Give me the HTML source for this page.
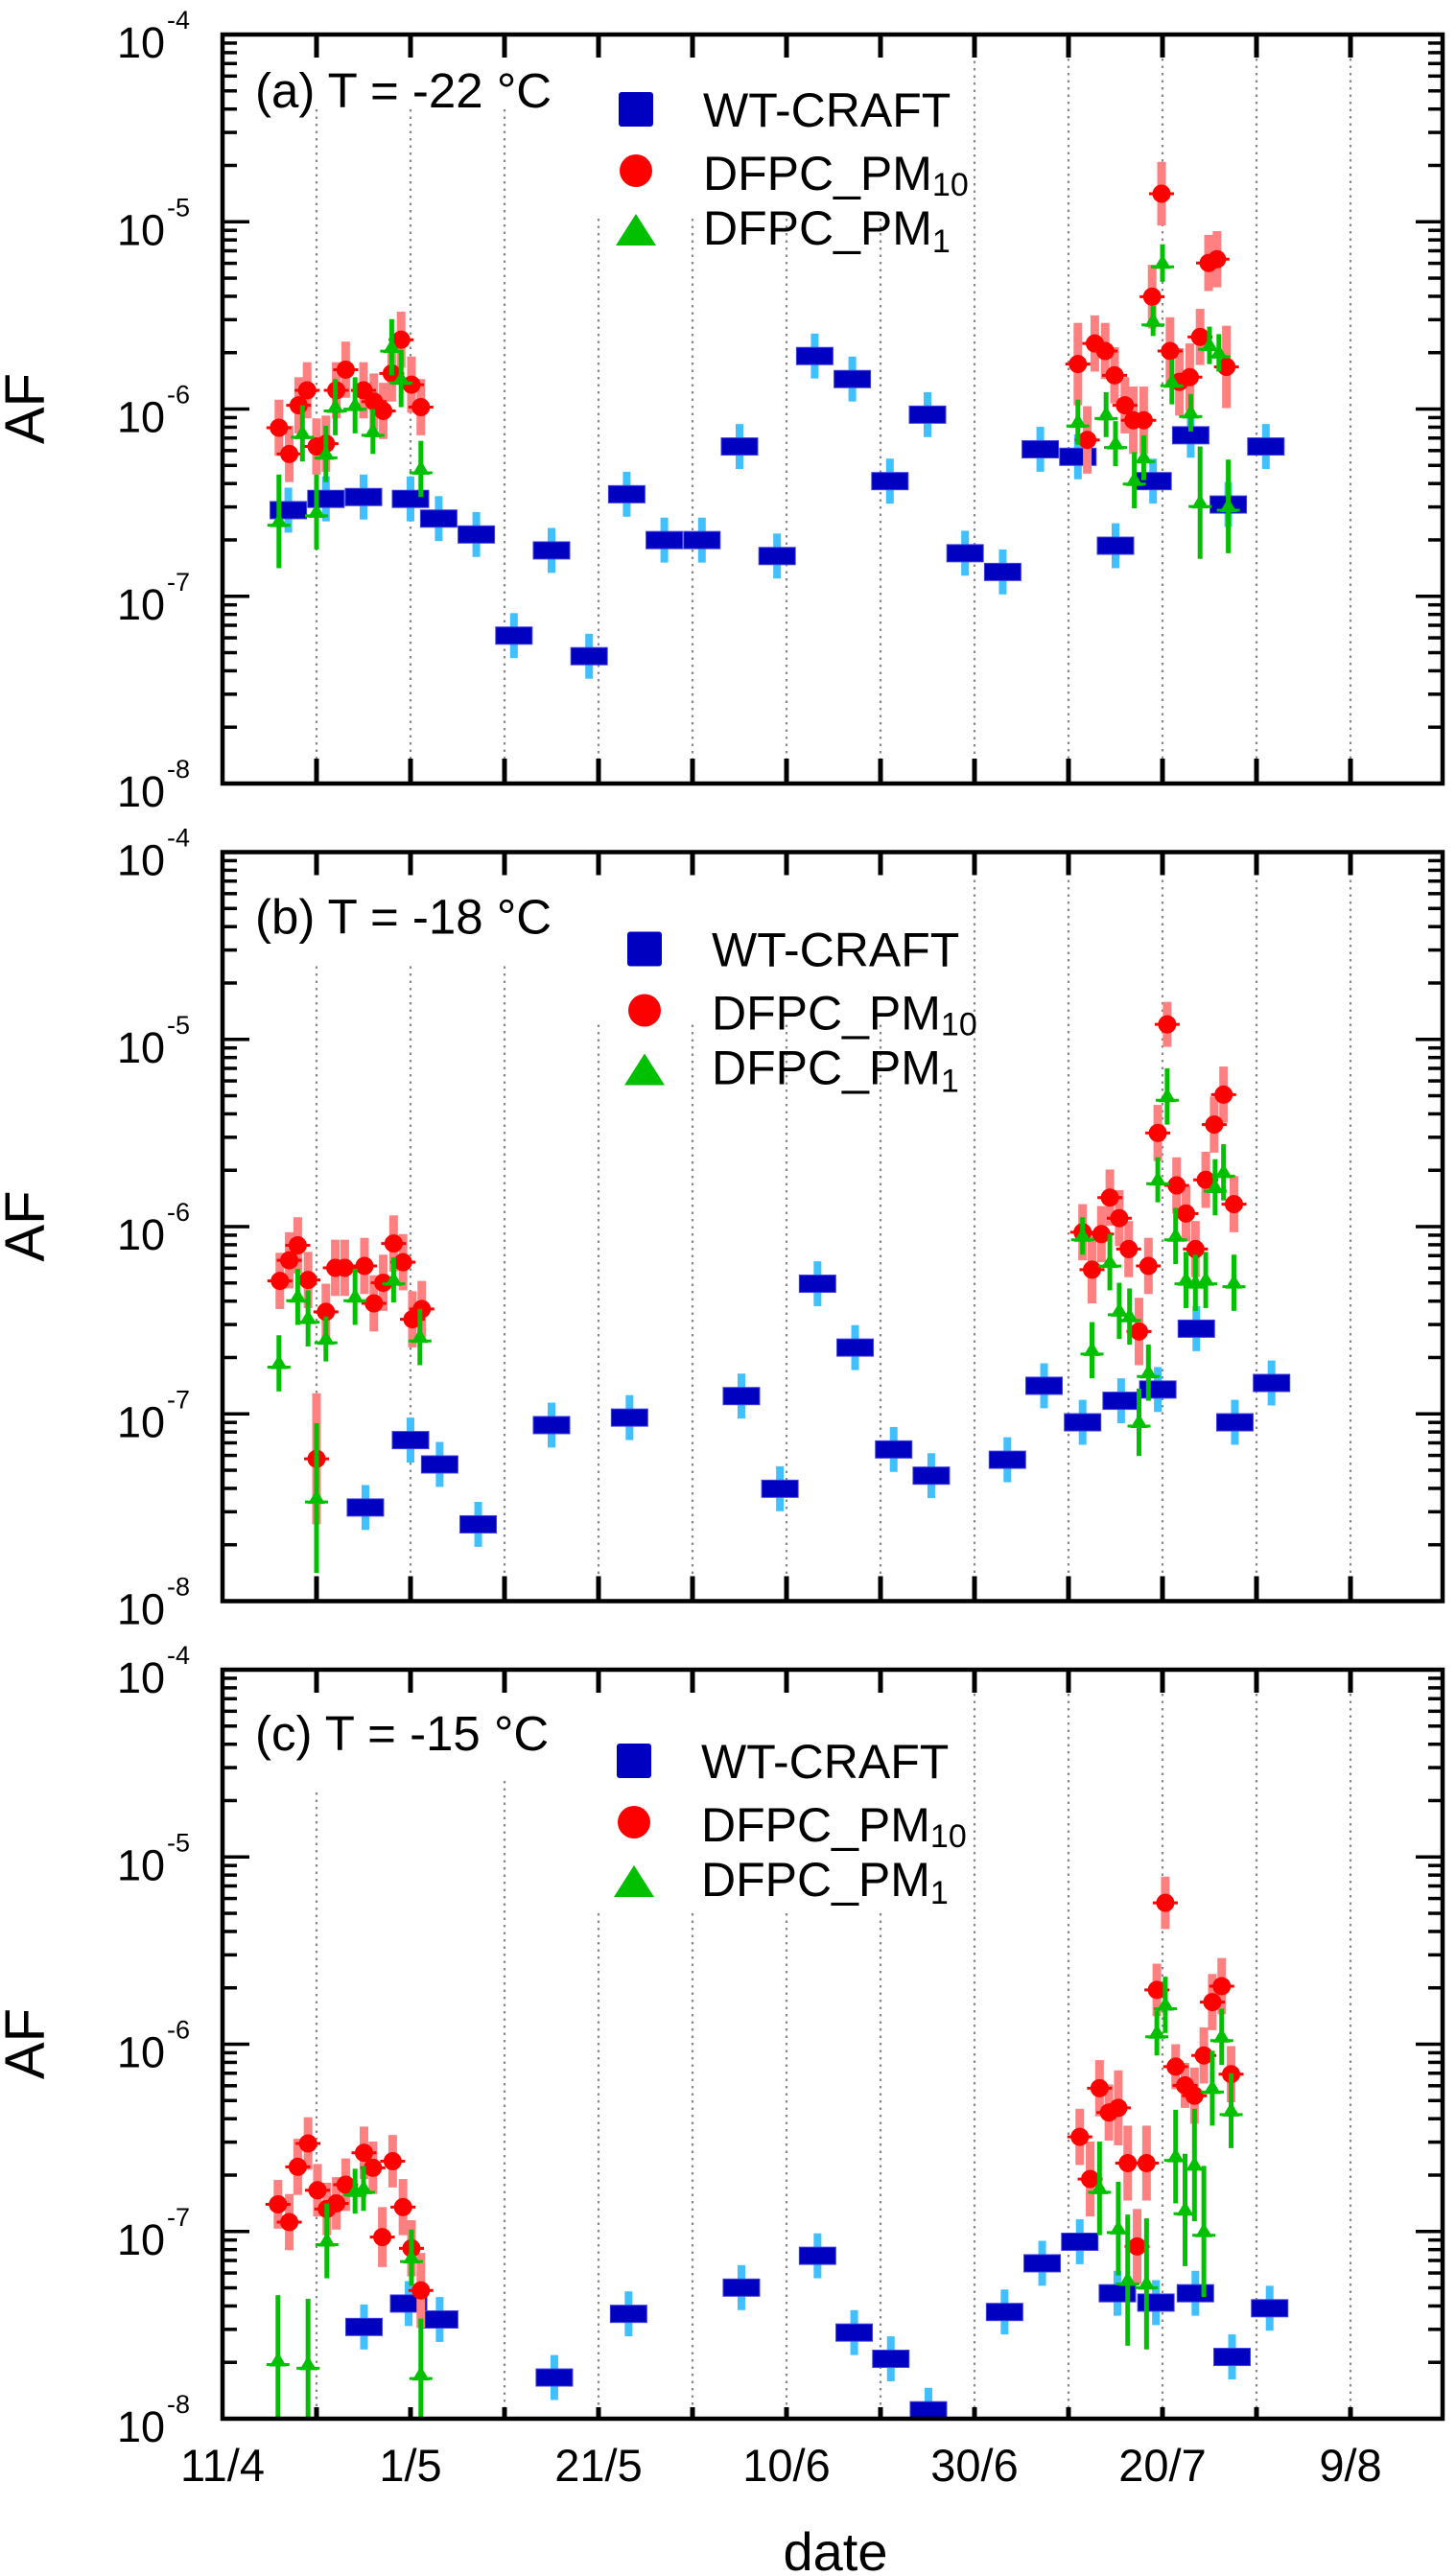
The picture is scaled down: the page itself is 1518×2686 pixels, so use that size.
<!DOCTYPE html>
<html><head><meta charset="utf-8"><title>AF vs date</title>
<style>html,body{margin:0;padding:0;background:#fff}svg{display:block}text{font-family:"Liberation Sans",Arial,sans-serif}</style>
</head><body>
<svg id="chart" xmlns="http://www.w3.org/2000/svg" width="1518" height="2686" viewBox="0 0 1518 2686"></svg>
<script>
// ---------- data (log10 AF values, day since 11/4) ----------
const xTickLabels = ["11/4","1/5","21/5","10/6","30/6","20/7","9/8"];
const panelLabels = ["(a) T = -22 \u00B0C","(b) T = -18 \u00B0C","(c) T = -15 \u00B0C"];
const yTickExps = ["-4","-5","-6","-7","-8"];

const aWtDay = [7,11,15,20,23,27,31,35,39,43,47,51,55,59,63,67,71,75,79,83,87,91,95,99,103,107,111];
const aWtLog = [-6.54,-6.48,-6.47,-6.48,-6.585,-6.67,-7.21,-6.755,-7.32,-6.455,-6.70,-6.70,-6.20,-6.785,-5.717,-5.84,-6.385,-6.03,-6.77,-6.87,-6.215,-6.255,-6.73,-6.385,-6.14,-6.51,-6.20];
const aPm10Day = [6,7.1,8.1,9,10,11,12.1,13.1,15,16.1,17.1,18,19,20.1,21.1,91,92,92.8,93.9,94.9,96,96.9,98,98.9,99.9,100.8,101.8,102.9,104,104.9,105.8,106.8];
const aPm10Log = [-6.10,-6.24,-5.98,-5.90,-6.20,-6.185,-5.90,-5.79,-5.90,-5.96,-6.01,-5.81,-5.63,-5.87,-5.99,-5.76,-6.165,-5.65,-5.69,-5.82,-5.98,-6.06,-6.06,-5.40,-4.85,-5.69,-5.855,-5.83,-5.615,-5.22,-5.20,-5.775];
const aPm10Err = [0.15,0.15,0.15,0.15,0.15,0.15,0.15,0.15,0.15,0.15,0.15,0.15,0.15,0.15,0.15,0.22,0.18,0.15,0.15,0.15,0.15,0.18,0.18,0.17,0.17,0.18,0.18,0.18,0.15,0.15,0.15,0.22];
const aPm1Day = [6,8.5,10,11,12,14.1,16,18,19,21.1,91,94,95,97,98,99,100,101,103,104,105,106,107];
const aPm1Log = [-6.60,-6.13,-6.55,-6.24,-5.99,-5.98,-6.12,-5.67,-5.84,-6.32,-6.07,-6.03,-6.185,-6.38,-6.26,-5.53,-5.22,-5.855,-6.02,-6.50,-5.66,-5.70,-6.52];
const aPm1Err = [0.25,0.15,0.2,0.15,0.15,0.15,0.12,0.15,0.15,0.15,0.12,0.12,0.12,0.15,0.12,0.08,0.1,0.12,0.1,0.3,0.1,0.1,0.25];

const bWtDay = [15.2,20,23.1,27.2,35,43.3,55.2,59.3,63.3,67.3,71.4,75.4,83.5,87.4,91.5,95.6,99.5,103.6,107.7,111.6];
const bWtLog = [-7.50,-7.14,-7.27,-7.59,-7.06,-7.02,-6.905,-7.40,-6.305,-6.646,-7.19,-7.33,-7.245,-6.85,-7.045,-6.93,-6.87,-6.545,-7.045,-6.835];
const bPm10Day = [6.1,7.1,8,9.1,10,11,12,13,15.1,16.1,17.1,18.2,19.2,20.2,21.2,91.5,92.5,93.5,94.4,95.4,96.4,97.5,98.5,99.5,100.5,101.5,102.5,103.5,104.6,105.5,106.5,107.6];
const bPm10Log = [-6.29,-6.18,-6.10,-6.285,-7.24,-6.455,-6.22,-6.22,-6.21,-6.41,-6.30,-6.09,-6.19,-6.495,-6.44,-6.03,-6.23,-6.04,-5.845,-5.955,-6.12,-6.56,-6.21,-5.50,-4.92,-5.78,-5.93,-6.12,-5.75,-5.455,-5.295,-5.88];
const bPm10Err = [0.15,0.15,0.15,0.15,0.35,0.15,0.15,0.15,0.15,0.15,0.15,0.15,0.15,0.15,0.15,0.15,0.18,0.15,0.15,0.15,0.15,0.18,0.15,0.15,0.12,0.15,0.15,0.15,0.15,0.15,0.15,0.15];
const bPm1Day = [6,8,9.1,11,14.1,10,18.2,21,91.5,92.5,94.4,95.4,96.5,97.5,98.5,99.5,100.5,101.4,102.5,103.5,104.6,105.6,106.5,107.6];
const bPm1Log = [-6.73,-6.375,-6.49,-6.60,-6.375,-7.45,-6.285,-6.59,-6.05,-6.66,-6.19,-6.45,-6.48,-7.045,-6.78,-5.75,-5.305,-6.05,-6.285,-6.30,-6.285,-5.79,-5.71,-6.30];
const bPm1Err = [0.15,0.15,0.15,0.12,0.15,0.4,0.12,0.15,0.1,0.15,0.15,0.15,0.15,0.18,0.15,0.12,0.15,0.15,0.15,0.15,0.15,0.15,0.15,0.15];

const cWtDay = [15.05,19.8,23.1,35.3,43.2,55.2,63.3,67.2,71.1,75.1,83.2,87.2,91.2,95.2,99.3,103.5,107.4,111.4];
const cWtLog = [-7.51,-7.385,-7.47,-7.78,-7.44,-7.30,-7.13,-7.54,-7.68,-7.955,-7.43,-7.17,-7.055,-7.33,-7.38,-7.33,-7.67,-7.41];
const cPm10Day = [5.9,7.1,8,9.1,10.1,11.1,12.1,13.1,15.05,16,17,18.1,19.2,20.1,21.1,91.2,92.3,93.3,94.3,95.3,96.3,97.3,98.3,99.4,100.3,101.4,102.4,103.4,104.4,105.3,106.3,107.3];
const cPm10Log = [-6.855,-6.95,-6.655,-6.53,-6.78,-6.88,-6.85,-6.75,-6.58,-6.66,-7.03,-6.625,-6.87,-7.09,-7.315,-6.495,-6.72,-6.235,-6.365,-6.34,-6.635,-7.08,-6.635,-5.71,-5.245,-6.12,-6.22,-6.275,-6.06,-5.775,-5.69,-6.16];
const cPm10Err = [0.13,0.15,0.15,0.14,0.14,0.14,0.14,0.14,0.14,0.14,0.16,0.14,0.15,0.15,0.2,0.15,0.2,0.15,0.15,0.2,0.2,0.2,0.2,0.14,0.14,0.12,0.12,0.15,0.15,0.15,0.15,0.15];
const cPm1Day = [5.9,9.1,11.1,14.1,15,20.1,21.1,93.3,95.3,96.3,98.3,99.4,100.3,101.4,102.4,103.4,104.4,105.3,106.3,107.3];
const cPm1Log = [-7.69,-7.71,-7.05,-6.785,-6.77,-7.14,-7.765,-6.77,-6.985,-7.26,-7.28,-5.94,-5.79,-6.60,-6.885,-6.645,-7.0,-6.235,-5.96,-6.355];
const cPm1Err = [0.35,0.35,0.2,0.12,0.12,0.15,0.3,0.25,0.25,0.35,0.35,0.12,0.15,0.25,0.3,0.3,0.35,0.2,0.15,0.2];

// ---------- layout ----------
const X0 = 232, X1 = 1504, PH = 781;
const tops = [36, 888.5, 1741];
const legendBase = [96, 119, 113];
const legendX = [733, 742, 731];
const gridStartA = [78,78,78,192,192,192,192,20,10,10,10,10];
const gridStartB = [119,119,119,180,180,180,180,14,14,14,14,14];
const gridStartC = [128,9999,116,254,254,254,254,10,10,10,10,10];
const gridStarts = [gridStartA, gridStartB, gridStartC];
const panels = [
 {wd:aWtDay,wl:aWtLog,rd:aPm10Day,rl:aPm10Log,re:aPm10Err,gd:aPm1Day,gl:aPm1Log,ge:aPm1Err},
 {wd:bWtDay,wl:bWtLog,rd:bPm10Day,rl:bPm10Log,re:bPm10Err,gd:bPm1Day,gl:bPm1Log,ge:bPm1Err},
 {wd:cWtDay,wl:cWtLog,rd:cPm10Day,rl:cPm10Log,re:cPm10Err,gd:cPm1Day,gl:cPm1Log,ge:cPm1Err}
];
const NS = "http://www.w3.org/2000/svg";
const svg = document.getElementById('chart');
function mk(tag, attrs, parent){const e=document.createElementNS(NS,tag);for(const k in attrs)e.setAttribute(k,attrs[k]);(parent||svg).appendChild(e);return e;}
const xS = d => X0 + d*9.8;
function yS(top, lg){ return top + (-4 - lg) * (PH/4); }

const defs = mk('defs',{});
tops.forEach((t,i)=>{const cp=mk('clipPath',{id:'clip'+i},defs);mk('rect',{x:X0,y:t,width:X1-X0,height:PH},cp);});

panels.forEach((p,pi)=>{
  const top = tops[pi], bot = top+PH;
  const g = mk('g',{});
  
  
  for(let k=1;k<=12;k++){
    const s = gridStarts[pi][k-1]; if(s>PH) continue;
    const l = mk('line',{x1:xS(k*10),x2:xS(k*10),y1:top+s,y2:bot,stroke:'#888','stroke-width':2.2,'stroke-dasharray':'2.5 5'},g);
    
    
  }
  for(let dec=0;dec<4;dec++){
    for(let m=1;m<10;m++){
      const lg = -8+dec+Math.log10(m);
      const y = yS(top, lg);
      const len = m===1?28:15;
      mk('line',{x1:X0,x2:X0+len,y1:y,y2:y,stroke:'#000','stroke-width':3.5},g);
      mk('line',{x1:X1,x2:X1-len,y1:y,y2:y,stroke:'#000','stroke-width':3.5},g);
    }
  }
  yTickExps.forEach((ex,i)=>{
    const y = top + i*(PH/4);
    const t = mk('text',{x:172,y:y+24,'font-size':45,'text-anchor':'end',fill:'#000'},g);
    t.textContent='10';
    
    
    const s = mk('text',{x:174,y:y-6,'font-size':27,fill:'#000'},g);
    s.textContent=ex;
    
    
  });
  for(let k=1;k<=12;k++){
    const x = xS(k*10);
    mk('line',{x1:x,x2:x,y1:bot,y2:bot-(pi===2?12:26),stroke:'#000','stroke-width':5},g);
    mk('line',{x1:x,x2:x,y1:top,y2:top+24,stroke:'#000','stroke-width':5},g);
  }
  const dg = mk('g',{'clip-path':'url(#clip'+pi+')'},g);
  p.wd.forEach((d,i)=>{
    const x=xS(d), y=yS(top,p.wl[i]), e=0.12*PH/4;
    const eb = mk('rect',{x:x-4,y:y-e,width:8,height:2*e,fill:'#40c0ff'},dg);
    
    
    const r = mk('rect',{x:x-19,y:y-9,width:38,height:18,fill:'#0000c0',stroke:'#4040e0','stroke-width':1},dg);
    
    
  });
  p.rd.forEach((d,i)=>{
    const x=xS(d), y=yS(top,p.rl[i]), e=p.re[i]*PH/4;
    const eb = mk('rect',{x:x-4.5,y:y-e,width:9,height:2*e,fill:'#ff8080'},dg);
    
    
  });
  p.rd.forEach((d,i)=>{
    const x=xS(d), y=yS(top,p.rl[i]);
    mk('line',{x1:x-13,x2:x+13,y1:y,y2:y,stroke:'#ff0000','stroke-width':3},dg);
    const c = mk('circle',{cx:x,cy:y,r:9.5,fill:'#ff0000'},dg);
    
    
  });
  p.gd.forEach((d,i)=>{
    const x=xS(d), y=yS(top,p.gl[i]), e=p.ge[i]*PH/4;
    const eb = mk('rect',{x:x-2.5,y:y-e,width:5,height:2*e,fill:'#00c000'},dg);
    
    
    mk('line',{x1:x-12,x2:x+12,y1:y+4,y2:y+4,stroke:'#00c000','stroke-width':3},dg);
    const t = mk('polygon',{points:`${x-9},${y+6} ${x+9},${y+6} ${x},${y-9}`,fill:'#00c000'},dg);
    
    
  });
  const fr = mk('rect',{x:X0,y:top,width:X1-X0,height:PH,fill:'none',stroke:'#000','stroke-width':4.5},g);
  
  
  const pl = mk('text',{x:266,y:top+76+(pi===0?0:(pi===1?9:8)),'font-size':51,fill:'#000'},g);
  pl.textContent = panelLabels[pi];
  
  
  const at = mk('text',{x:0,y:0,'font-size':58,'text-anchor':'middle',fill:'#000',transform:`translate(46,${top+390}) rotate(-90)`},g);
  at.textContent='AF';
  
  
  const lb = top+legendBase[pi], lx = legendX[pi], mx = lx-70;
  const lg = mk('g',{},g);
  
  
  mk('rect',{x:mx-18,y:lb-36,width:36,height:36,fill:'#0000c0',rx:3},lg);
  const t1=mk('text',{x:lx,y:lb,'font-size':50,fill:'#000'},lg); t1.textContent='WT-CRAFT';
  
  
  mk('circle',{cx:mx,cy:lb+46,r:17,fill:'#ff0000'},lg);
  const t2=mk('text',{x:lx,y:lb+66,'font-size':50,fill:'#000'},lg);
  t2.innerHTML='DFPC_PM<tspan font-size="34" dy="6">10</tspan>';
  
  
  mk('polygon',{points:`${mx-21},${lb+124} ${mx+21},${lb+124} ${mx},${lb+91}`,fill:'#00c000'},lg);
  const t3=mk('text',{x:lx,y:lb+123,'font-size':50,fill:'#000'},lg);
  t3.innerHTML='DFPC_PM<tspan font-size="34" dy="8">1</tspan>';
  
  
});
xTickLabels.forEach((lab,i)=>{
  const t = mk('text',{x:xS(i*20),y:2587,'font-size':47,'text-anchor':'middle',fill:'#000'});
  t.textContent = lab;
  
  
});
const xt = mk('text',{x:871,y:2680,'font-size':56,'text-anchor':'middle',fill:'#000'});
xt.textContent='date';


</script>
</body></html>
